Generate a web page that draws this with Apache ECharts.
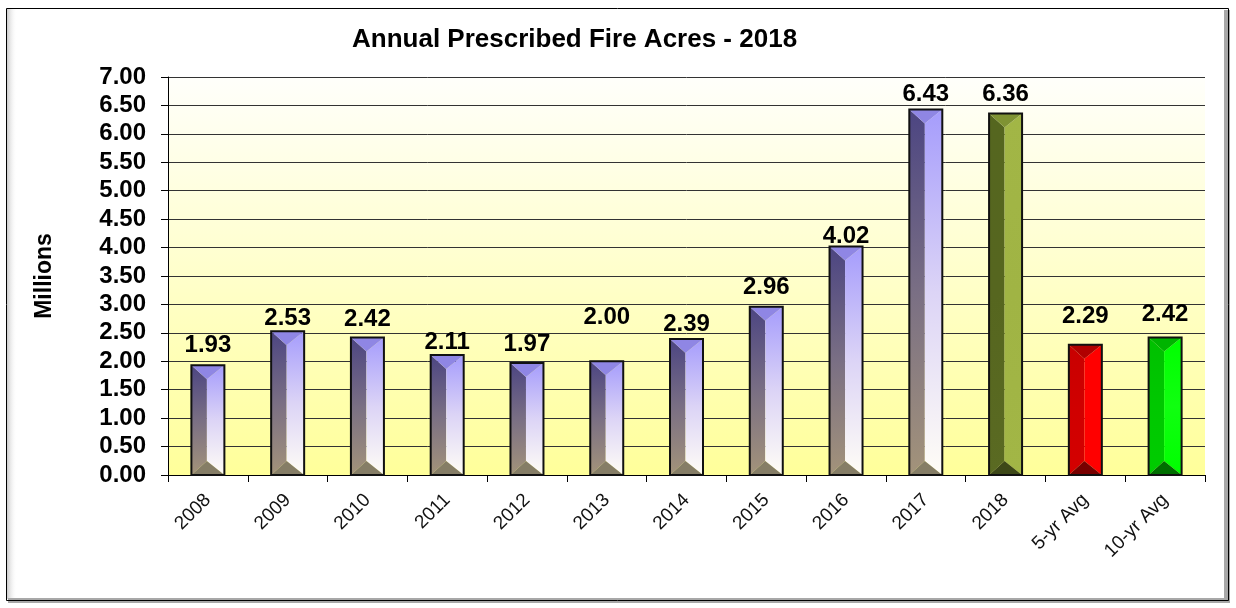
<!DOCTYPE html>
<html>
<head>
<meta charset="utf-8">
<title>Annual Prescribed Fire Acres - 2018</title>
<script src="https://cdn.jsdelivr.net/npm/echarts@6/dist/echarts.min.js"></script>
<style>
  html, body { margin: 0; padding: 0; background: #fff; }
  #chart { width: 1236px; height: 608px; }
</style>
</head>
<body>
<div id="chart"></div>
<script>
const categories = ["2008", "2009", "2010", "2011", "2012", "2013", "2014", "2015", "2016", "2017", "2018", "5-yr Avg", "10-yr Avg"];
const acres = [1.93, 2.53, 2.42, 2.11, 1.97, 2.00, 2.39, 2.96, 4.02, 6.43, 6.36, 2.29, 2.42];
// px between bar top and label centre, as Excel placed them
const labelLift = [20, 13, 18, 13, 19, 44, 15, 19, 10, 15, 19, 28, 23];

const FONT = '"Liberation Sans", Arial, sans-serif';

const palettes = {
  history: {
    left: ["#4c4582", "#7a6f84", "#a3937a"],
    right: ["#a59cfc", "#dcd4f6", "#fffdf6"],
    top: "#8f86e4",
    bottom: "#857d66",
  },
  current: {
    left: ["#55661f", "#56661f", "#5a6a22"],
    right: ["#a2b646", "#a0b444", "#a2b646"],
    top: "#7f9333",
    bottom: "#3d4818",
  },
  avg5: {
    left: ["#c80000", "#d00000", "#d40000"],
    right: ["#ff0000", "#ff0000", "#ff0000"],
    top: "#b00000",
    bottom: "#780000",
  },
  avg10: {
    left: ["#00c000", "#00c800", "#00cc00"],
    right: ["#00ff00", "#10ff10", "#00ff00"],
    top: "#00b400",
    bottom: "#006e00",
  },
};

function paletteFor(i) {
  if (categories[i] === "2018") return palettes.current;
  if (categories[i] === "5-yr Avg") return palettes.avg5;
  if (categories[i] === "10-yr Avg") return palettes.avg10;
  return palettes.history;
}

function vGrad(stops) {
  return new echarts.graphic.LinearGradient(0, 0, 0, 1, [
    { offset: 0, color: stops[0] },
    { offset: 0.5, color: stops[1] },
    { offset: 1, color: stops[2] },
  ]);
}

function renderBevelBar(params, api) {
  const i = api.value(0);
  const v = api.value(1);
  const top = api.coord([i, v]);
  const base = api.coord([i, 0]);
  const bw = 33;
  const x0 = top[0] - bw / 2;
  const x1 = x0 + bw;
  const y0 = top[1];
  const y1 = base[1];
  const xr = x0 + bw * 0.47;
  const d = Math.min(14, (y1 - y0) / 2);
  const pal = paletteFor(i);

  return {
    type: "group",
    children: [
      {
        type: "polygon",
        shape: { points: [[x0, y0], [xr, y0 + d], [xr, y1 - d], [x0, y1]] },
        style: { fill: vGrad(pal.left) },
      },
      {
        type: "polygon",
        shape: { points: [[xr, y0 + d], [x1, y0], [x1, y1], [xr, y1 - d]] },
        style: { fill: vGrad(pal.right) },
      },
      {
        type: "polygon",
        shape: { points: [[x0, y0], [x1, y0], [xr, y0 + d]] },
        style: { fill: pal.top },
      },
      {
        type: "polygon",
        shape: { points: [[x0, y1], [xr, y1 - d], [x1, y1]] },
        style: { fill: pal.bottom },
      },
      {
        type: "rect",
        shape: { x: x0, y: y0, width: bw, height: y1 - y0 },
        style: { fill: "none", stroke: "#111", lineWidth: 2 },
      },
      {
        type: "text",
        style: {
          text: v.toFixed(2),
          x: top[0],
          y: y0 - labelLift[i],
          align: "center",
          verticalAlign: "middle",
          fill: "#000",
          font: "bold 24px " + FONT,
        },
      },
    ],
  };
}

const chart = echarts.init(document.getElementById("chart"));

chart.setOption({
  backgroundColor: "#fff",
  animation: false,
  title: {
    text: "Annual Prescribed Fire Acres - 2018",
    left: 347,
    top: 22,
    textStyle: { fontFamily: FONT, fontSize: 26, fontWeight: "bold", color: "#000" },
  },
  graphic: [
    {
      type: "rect",
      z: -10,
      shape: { x: 7, y: 9, width: 10, height: 590 },
      style: {
        fill: new echarts.graphic.LinearGradient(0, 0, 1, 0, [
          { offset: 0, color: "#cccccc" },
          { offset: 1, color: "rgba(255,255,255,0)" },
        ]),
      },
    },
    {
      type: "rect",
      z: -10,
      shape: { x: 8, y: 598, width: 1222, height: 5 },
      style: { fill: "#a8a8a8" },
    },
    {
      type: "rect",
      z: -10,
      shape: { x: 1224, y: 10, width: 6, height: 593 },
      style: { fill: "#a8a8a8" },
    },
    {
      type: "rect",
      z: -9,
      shape: { x: 6.5, y: 8.5, width: 1222, height: 592 },
      style: { fill: "none", stroke: "#000", lineWidth: 1 },
    },
  ],
  grid: {
    left: 168,
    right: 31,
    top: 77,
    bottom: 133,
    show: true,
    borderWidth: 0,
    backgroundColor: new echarts.graphic.LinearGradient(0, 0, 0, 1, [
      { offset: 0, color: "#fffffb" },
      { offset: 1, color: "#ffff9a" },
    ]),
  },
  xAxis: {
    type: "category",
    data: categories,
    boundaryGap: true,
    axisLine: { lineStyle: { color: "#000", width: 1 } },
    axisTick: { show: true, length: 7, lineStyle: { color: "#000" } },
    axisLabel: {
      rotate: 45,
      margin: 22,
      interval: 0,
      color: "#111",
      fontFamily: FONT,
      fontSize: 19,
    },
  },
  yAxis: {
    type: "value",
    min: 0,
    max: 7,
    interval: 0.5,
    name: "Millions",
    nameLocation: "middle",
    nameRotate: 90,
    nameGap: 112,
    nameTextStyle: { fontFamily: FONT, fontSize: 23, fontWeight: "bold", color: "#000" },
    axisLine: { show: true, lineStyle: { color: "#000", width: 1 } },
    axisTick: { show: true, length: 7, lineStyle: { color: "#000" } },
    splitLine: { show: true, lineStyle: { color: "#333", width: 1 } },
    axisLabel: {
      margin: 22,
      color: "#000",
      fontFamily: FONT,
      fontSize: 24,
      fontWeight: "bold",
      formatter: (val) => val.toFixed(2),
    },
  },
  series: [
    {
      type: "custom",
      renderItem: renderBevelBar,
      encode: { x: 0, y: 1 },
      data: acres.map((v, i) => [i, v]),
      clip: false,
    },
  ],
});
</script>
</body>
</html>
